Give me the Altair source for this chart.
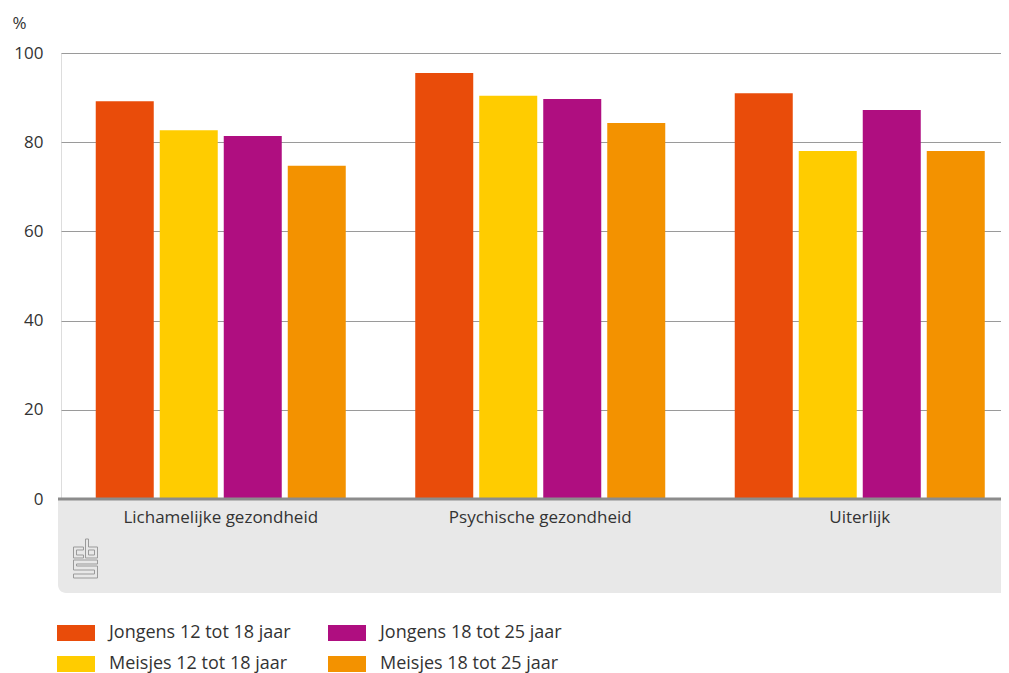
import altair as alt
import pandas as pd

# ---- data ----
categories = ["Lichamelijke gezondheid", "Psychische gezondheid", "Uiterlijk"]
series = ["Jongens 12 tot 18 jaar", "Meisjes 12 tot 18 jaar",
          "Jongens 18 tot 25 jaar", "Meisjes 18 tot 25 jaar"]
jongens_12_18 = [89.2, 95.5, 91.0]
meisjes_12_18 = [82.7, 90.4, 78.0]
jongens_18_25 = [81.4, 89.7, 87.2]
meisjes_18_25 = [74.7, 84.3, 78.0]
series_values = [jongens_12_18, meisjes_12_18, jongens_18_25, meisjes_18_25]
series_colors = ["#E94C0A", "#FFCC00", "#AF0E80", "#F39200"]
y_ticks = [0, 20, 40, 60, 80, 100]

rows = []
for s, vals in zip(series, series_values):
    for c, v in zip(categories, vals):
        rows.append({"categorie": c, "reeks": s, "waarde": v})
df = pd.DataFrame(rows)

W = 958.5
H = 446
FONT = "Open Sans"
TXT = "#333333"

# cbs logo outline (local pixel units, 24 x 39)
logo_polys = [
    [(10, 8), (0, 8), (0, 19), (10, 19), (10, 16), (3, 16), (3, 11), (10, 11)],
    [(12, 0), (15, 0), (15, 8), (24, 8), (24, 19), (12, 19)],
    [(15, 11), (21, 11), (21, 16), (15, 16)],
    [(24, 21), (0, 21), (0, 31), (21, 31), (21, 35), (0, 35), (0, 39), (24, 39),
     (24, 27), (3, 27), (3, 25), (24, 25)],
]
def _p(pt):
    return f"{(pt[0] - 12) / 19.5:.3f},{(pt[1] - 19.5) / 19.5:.3f}"
logo_path = " ".join("M" + " L".join(_p(pt) for pt in poly) + " Z" for poly in logo_polys)

one = pd.DataFrame({"a": [0]})

band = alt.Chart(one).mark_rect(color="#e8e8e8", cornerRadiusBottomLeft=8).encode(
    x=alt.value(-3), x2=alt.value(W + 20), y=alt.value(H), y2=alt.value(H + 94)
)

bars = alt.Chart(df).mark_bar().encode(
    x=alt.X("categorie:N", sort=categories,
            scale=alt.Scale(paddingInner=0.2175, paddingOuter=0.10875),
            axis=alt.Axis(title=None, labelAngle=0, domain=False, ticks=False, grid=False,
                          labelFontSize=17, labelPadding=10, labelColor=TXT, labelFont=FONT,
                          labelLimit=0, zindex=2)),
    xOffset=alt.XOffset("reeks:N", sort=series,
                        scale=alt.Scale(paddingInner=0.09375, paddingOuter=0)),
    y=alt.Y("waarde:Q", scale=alt.Scale(domain=[0, 100]),
            axis=alt.Axis(values=y_ticks, title="%", titleAngle=0, titleAlign="left",
                          titleBaseline="middle", titleX=-49, titleY=-30,
                          titleFontSize=17, titleFontWeight="normal", titleColor=TXT,
                          titleFont=FONT, domain=False, ticks=False, labelPadding=18,
                          labelFontSize=17, labelColor=TXT, labelFont=FONT,
                          gridColor="#9a9a9a", gridWidth=1)),
    color=alt.Color("reeks:N",
                    scale=alt.Scale(domain=series, range=series_colors),
                    legend=alt.Legend(title=None, orient="none", legendX=-4, legendY=561,
                                      columns=2, columnPadding=37, rowPadding=3,
                                      symbolType="M-1,-0.42H1V0.42H-1Z", symbolSize=1444,
                                      symbolStrokeWidth=0, symbolOpacity=1,
                                      labelFontSize=18, labelFont=FONT, labelColor=TXT,
                                      labelOffset=14, labelLimit=400)),
)

axis_line = alt.Chart(one).mark_rule(color="#8c8c8c", strokeWidth=3).encode(
    x=alt.value(-3), x2=alt.value(W + 20), y=alt.value(H)
)

logo = alt.Chart(one).mark_point(shape=logo_path, filled=False, color="#9a9a9a",
                                 strokeWidth=1, size=1521, opacity=1).encode(
    x=alt.value(24.5), y=alt.value(505.5)
)

chart = alt.layer(band, bars, axis_line, logo).properties(
    width=W, height=H,
    autosize=alt.AutoSizeParams(type="none"),
    padding={"left": 53, "top": 45, "right": -18.5, "bottom": 174},
).configure_view(stroke=None).configure(font=FONT)

chart.save("out.html", embed_options={"renderer": "svg", "actions": False})
